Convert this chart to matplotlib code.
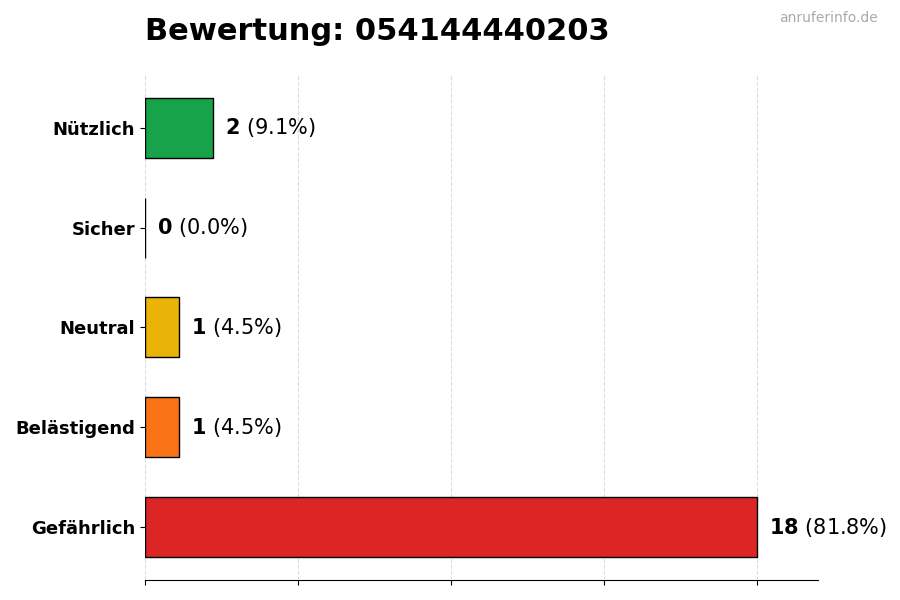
import matplotlib
matplotlib.use("Agg")
import matplotlib.pyplot as plt

# data
categories = ["Gefährlich", "Belästigend", "Neutral", "Sicher", "Nützlich"]
counts = [18, 1, 1, 0, 2]
colors = ["#dc2626", "#f97316", "#eab308", "#6b7280", "#16a34a"]
total = sum(counts)

fig = plt.figure(figsize=(9, 6), dpi=100)
ax = fig.add_axes([0.161, 0.0333, 0.748, 0.842])

ax.barh(categories, counts, height=0.6, color=colors, edgecolor="black", linewidth=1)
ax.set_xlim(0, max(counts) * 1.1)
ax.set_xticks([0, 4.5, 9, 13.5, 18])
ax.set_xticklabels([])
ax.grid(axis="x", linestyle="--", color="#dddddd", linewidth=0.8)
ax.set_axisbelow(True)

for s in ["top", "right", "left"]:
    ax.spines[s].set_visible(False)

for lbl in ax.get_yticklabels():
    lbl.set_fontweight("bold")
    lbl.set_fontsize(13)

# value labels: bold count + percentage
for i, c in enumerate(counts):
    pct = c / total * 100
    ax.annotate(f"$\\bf{{{c}}}$ ({pct:.1f}%)", xy=(c, i), xytext=(9, 0),
                textcoords="offset points", va="center", ha="left", fontsize=15)

fig.text(0.161, 0.947, "Bewertung: 054144440203", fontsize=22, fontweight="bold",
         ha="left", va="center")
fig.text(0.975, 0.970, "anruferinfo.de", fontsize=10, color="#aaaaaa",
         ha="right", va="center")

fig.savefig("out.png", dpi=100)
